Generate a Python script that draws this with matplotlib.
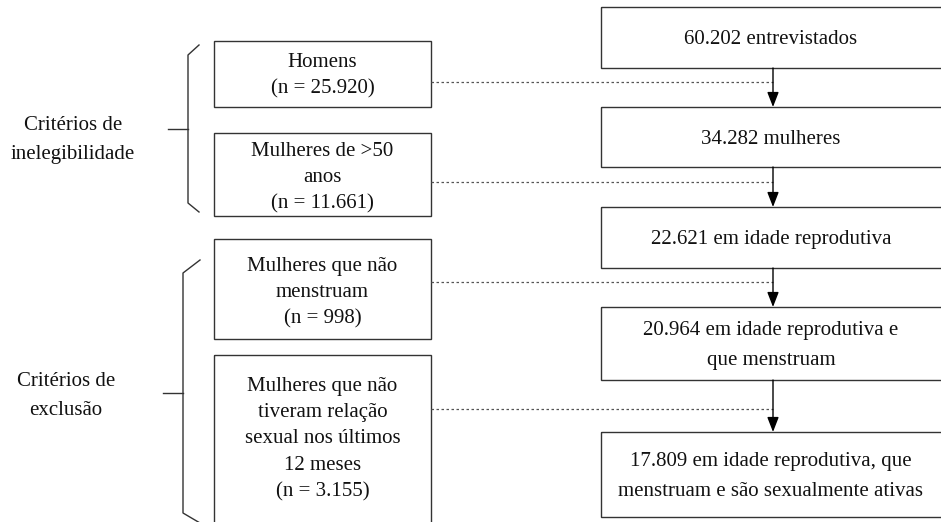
import matplotlib.pyplot as plt
from matplotlib.patches import Rectangle

# flow texts
main_steps = ['60.202 entrevistados',
              '34.282 mulheres',
              '22.621 em idade reprodutiva',
              '20.964 em idade reprodutiva e\nque menstruam',
              '17.809 em idade reprodutiva, que\nmenstruam e são sexualmente ativas']
excluded_labels = ['Homens',
                   'Mulheres de >50\nanos',
                   'Mulheres que não\nmenstruam',
                   'Mulheres que não\ntiveram relação\nsexual nos últimos\n12 meses']
excluded_n = ['25.920', '11.661', '998', '3.155']
group_labels = ['Critérios de\ninelegibilidade', 'Critérios de\nexclusão']

W, H = 941, 522
font_size = 15
line_col = '#333333'
txt_col = '#111111'

plt.rcParams['font.family'] = ['Liberation Serif', 'DejaVu Serif']

fig = plt.figure(figsize=(W / 100, H / 100), dpi=100)
ax = fig.add_axes([0, 0, 1, 1])
ax.set_xlim(0, W)
ax.set_ylim(H, 0)
ax.axis('off')

# right column boxes (top, bottom)
main_x0, main_x1 = 601, 946
main_rows = [(7, 68), (107, 167), (207, 268), (307, 380), (432, 517)]
arrow_x = 773

for (top, bot), txt in zip(main_rows, main_steps):
    ax.add_patch(Rectangle((main_x0, top), main_x1 - main_x0, bot - top,
                           fill=False, ec=line_col, lw=1.0))
    ax.text((main_x0 + main_x1 - 5) / 2, (top + bot) / 2 + 2, txt, ha='center', va='center',
            fontsize=font_size, linespacing=1.75, color=txt_col)

for i in range(len(main_rows) - 1):
    ax.annotate('', xy=(arrow_x, main_rows[i + 1][0]), xytext=(arrow_x, main_rows[i][1]),
                arrowprops=dict(arrowstyle='-|>,head_length=0.9,head_width=0.35',
                                color='black', lw=1.0, shrinkA=0, shrinkB=0))

# left column boxes
left_x0, left_x1 = 214, 431
left_rows = [(41, 107), (133, 216), (239, 339), (355, 530)]
dot_y = [82, 182, 282, 409]
text_shift = [2, 3, 4, 3]

for (top, bot), lab, n, dy, sh in zip(left_rows, excluded_labels, excluded_n, dot_y, text_shift):
    ax.add_patch(Rectangle((left_x0, top), left_x1 - left_x0, bot - top,
                           fill=False, ec=line_col, lw=1.0, clip_on=False))
    yc = (top + min(bot, 517)) / 2
    ax.text((left_x0 + left_x1) / 2, yc + sh, lab + '\n(n = ' + n + ')', ha='center', va='center',
            fontsize=font_size, linespacing=1.52, color=txt_col)
    ax.plot([left_x1, arrow_x], [dy, dy], ls=(0, (2, 2)), color='#555555', lw=0.9)

# braces
braces = [dict(x=188, xe=199, ytop=55, ybot=203, yt0=45, yb1=212, ym=129, xm=168),
          dict(x=183, xe=200, ytop=273, ybot=513, yt0=260, yb1=523, ym=393, xm=163)]
for b in braces:
    ax.plot([b['xe'], b['x'], b['x'], b['xe']], [b['yt0'], b['ytop'], b['ybot'], b['yb1']],
            color=line_col, lw=1.0, clip_on=False)
    ax.plot([b['xm'], b['x']], [b['ym'], b['ym']], color=line_col, lw=1.0)

ax.text(73, 140, group_labels[0], ha='center', va='center', fontsize=font_size,
        linespacing=1.7, color=txt_col)
ax.text(66, 396, group_labels[1], ha='center', va='center', fontsize=font_size,
        linespacing=1.7, color=txt_col)

fig.savefig('out.png', dpi=100)
